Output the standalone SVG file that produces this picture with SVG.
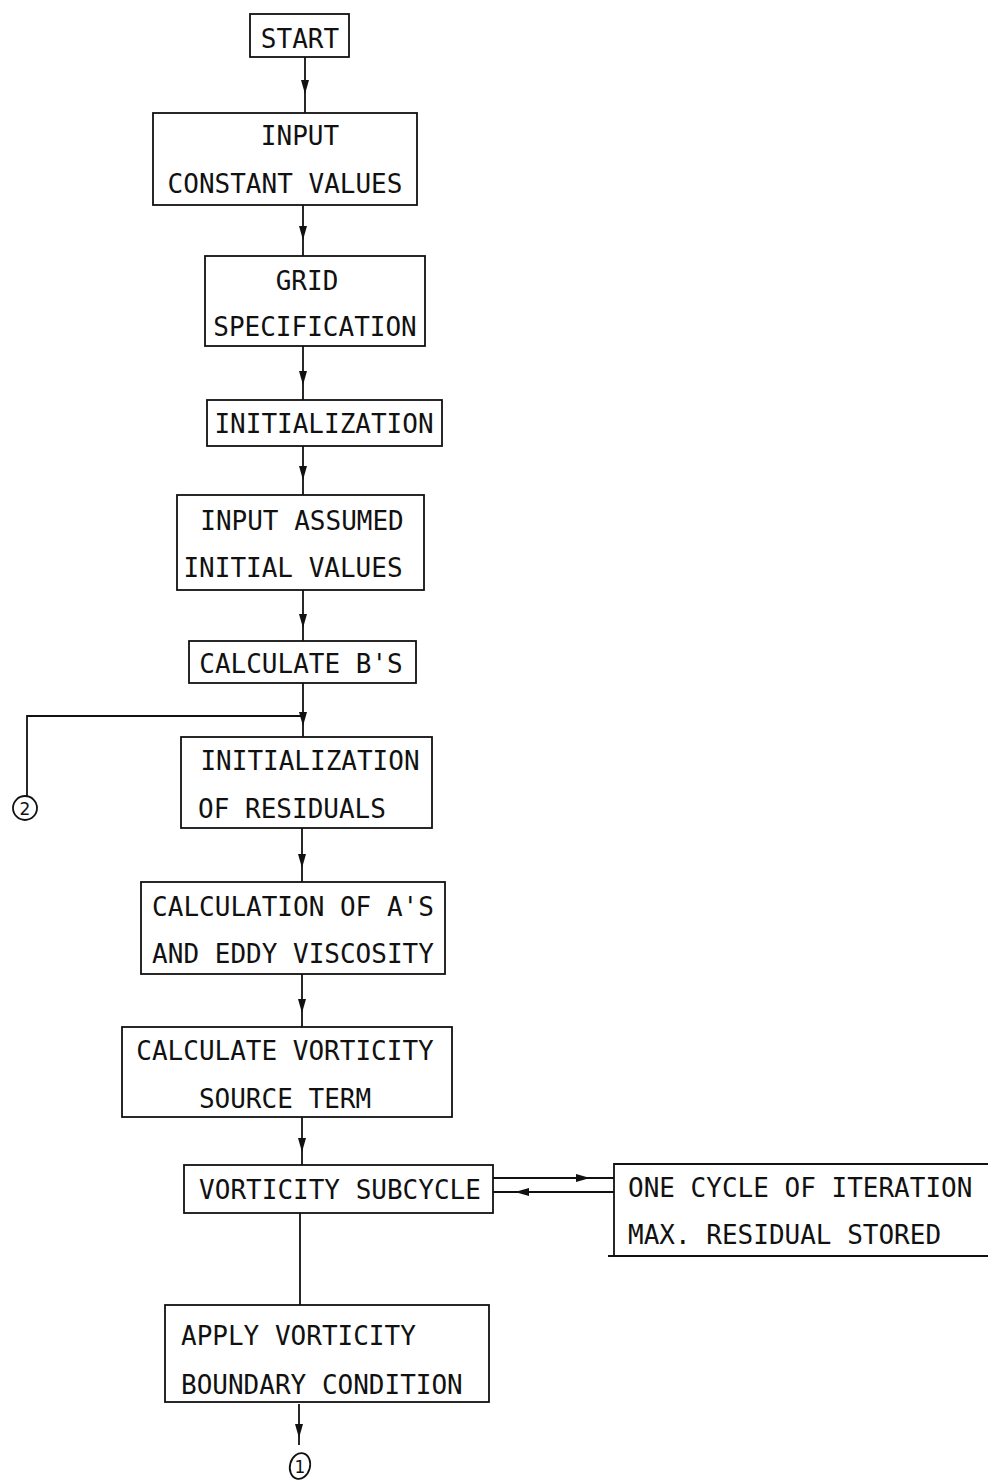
<svg xmlns="http://www.w3.org/2000/svg" width="988" height="1481" viewBox="0 0 988 1481">
<style>
.box{fill:none;stroke:#111;stroke-width:1.8}
.ln{fill:none;stroke:#111;stroke-width:1.8}
.t{font-family:"DejaVu Sans Mono","Liberation Mono",monospace;font-size:26px;fill:#111}
.c{text-anchor:middle}
</style>
<defs>
<marker id="ah" viewBox="0 0 14 8" refX="14" refY="4" markerWidth="14" markerHeight="8" markerUnits="userSpaceOnUse" orient="auto">
<path d="M0,0 L14,4 L0,8 Z" fill="#111"/>
</marker>
</defs>
<rect width="988" height="1481" fill="#fff"/>
<g id="connectors">
<path class="ln" d="M305,57 L305,94 L305,113" marker-mid="url(#ah)"/>
<path class="ln" d="M303,205 L303,240 L303,256" marker-mid="url(#ah)"/>
<path class="ln" d="M303,346 L303,385 L303,400" marker-mid="url(#ah)"/>
<path class="ln" d="M303,446 L303,480 L303,495" marker-mid="url(#ah)"/>
<path class="ln" d="M303,590 L303,628 L303,641" marker-mid="url(#ah)"/>
<path class="ln" d="M303,683 L303,726 L303,737" marker-mid="url(#ah)"/>
<path class="ln" d="M303,716 L27,716 L27,796"/>
<path class="ln" d="M302,828 L302,868 L302,882" marker-mid="url(#ah)"/>
<path class="ln" d="M302,974 L302,1013 L302,1027" marker-mid="url(#ah)"/>
<path class="ln" d="M302,1117 L302,1152 L302,1165" marker-mid="url(#ah)"/>
<path class="ln" d="M300,1213 L300,1275 L300,1305"/>
<path class="ln" d="M299,1404 L299,1438 L299,1445" marker-mid="url(#ah)"/>
<path class="ln" d="M493,1178 L590,1178 L614,1178" marker-mid="url(#ah)"/>
<path class="ln" d="M614,1192 L515,1192 L493,1192" marker-mid="url(#ah)"/>
</g>
<g id="start"><rect class="box" x="250" y="14" width="99" height="43"/><text class="t c" x="300" y="48">START</text></g>
<g id="input-constant"><rect class="box" x="153" y="113" width="264" height="92"/><text class="t c" x="300" y="145">INPUT</text><text class="t c" x="285" y="193">CONSTANT VALUES</text></g>
<g id="grid"><rect class="box" x="205" y="256" width="220" height="90"/><text class="t c" x="307" y="290">GRID</text><text class="t c" x="315" y="336">SPECIFICATION</text></g>
<g id="initialization"><rect class="box" x="207" y="400" width="235" height="46"/><text class="t c" x="324" y="433">INITIALIZATION</text></g>
<g id="input-assumed"><rect class="box" x="177" y="495" width="247" height="95"/><text class="t c" x="302" y="530">INPUT ASSUMED</text><text class="t c" x="293" y="577">INITIAL VALUES</text></g>
<g id="calc-b"><rect class="box" x="189" y="641" width="227" height="42"/><text class="t c" x="301" y="673">CALCULATE B'S</text></g>
<g id="init-residuals"><rect class="box" x="181" y="737" width="251" height="91"/><text class="t c" x="310" y="770">INITIALIZATION</text><text class="t c" x="292" y="818">OF RESIDUALS</text></g>
<g id="calc-a"><rect class="box" x="141" y="882" width="304" height="92"/><text class="t c" x="293" y="916">CALCULATION OF A'S</text><text class="t c" x="293" y="963">AND EDDY VISCOSITY</text></g>
<g id="source-term"><rect class="box" x="122" y="1027" width="330" height="90"/><text class="t c" x="285" y="1060">CALCULATE VORTICITY</text><text class="t c" x="285" y="1108">SOURCE TERM</text></g>
<g id="subcycle"><rect class="box" x="184" y="1165" width="309" height="48"/><text class="t c" x="340" y="1199">VORTICITY SUBCYCLE</text></g>
<g id="one-cycle"><path class="box" d="M988,1164 L614,1164 L614,1256 M608,1256 L988,1256"/><text class="t" x="628" y="1197">ONE CYCLE OF ITERATION</text><text class="t" x="628" y="1244">MAX. RESIDUAL STORED</text></g>
<g id="apply-bc"><rect class="box" x="165" y="1305" width="324" height="97"/><text class="t" x="181" y="1345">APPLY VORTICITY</text><text class="t" x="181" y="1394">BOUNDARY CONDITION</text></g>
<g id="connector-2"><circle class="ln" cx="25" cy="808" r="12"/><text x="25" y="815" text-anchor="middle" font-family="DejaVu Sans, sans-serif" font-size="17" fill="#111">2</text></g>
<g id="connector-1"><ellipse class="ln" cx="300" cy="1466" rx="10" ry="13" transform="rotate(15 300 1466)"/><text x="300" y="1473" text-anchor="middle" font-family="DejaVu Sans, sans-serif" font-size="17" fill="#111">1</text></g>
</svg>
